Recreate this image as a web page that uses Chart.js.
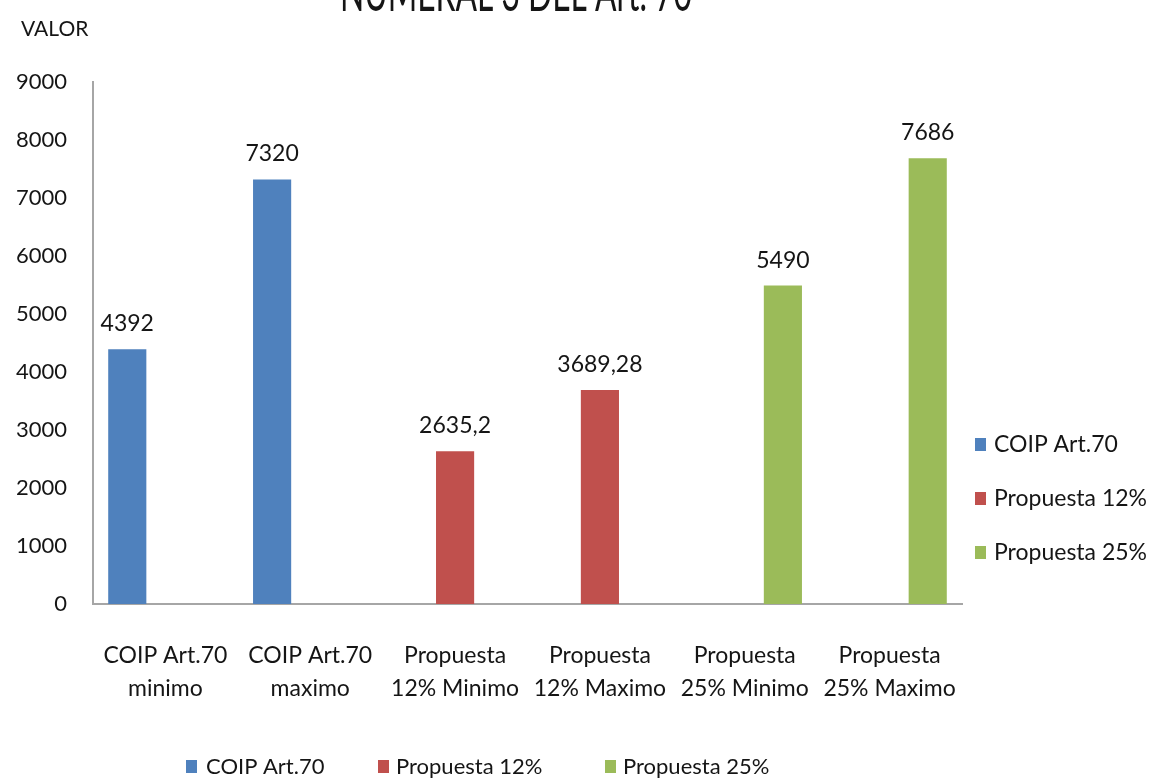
<!DOCTYPE html>
<html lang="es">
<head>
    <meta charset="UTF-8">
    <title>Numeral 3 del Art. 70</title>
    <style>
        html, body { margin: 0; padding: 0; background: #fff; }
        #wrap { width: 1159px; height: 778px; position: relative; }
    </style>
</head>
<body>
<div id="wrap">
    <canvas id="artChart" width="1159" height="778"></canvas>
</div>

<script src="https://cdn.jsdelivr.net/npm/chart.js"></script>

<script>
    // Categories (two lines each) and series values
    const categories = [
        ["COIP Art.70", "minimo"],
        ["COIP Art.70", "maximo"],
        ["Propuesta", "12% Minimo"],
        ["Propuesta", "12% Maximo"],
        ["Propuesta", "25% Minimo"],
        ["Propuesta", "25% Maximo"]
    ];
    const seriesNames = ["COIP Art.70", "Propuesta 12%", "Propuesta 25%"];
    const coipValues = [4392, 7320, null, null, null, null];
    const prop12Values = [null, null, 2635.2, 3689.28, null, null];
    const prop25Values = [null, null, null, null, 5490, 7686];
    const seriesColors = ['#4F81BD', '#C0504D', '#9BBB59'];

    const chartTitle = "NUMERAL 3 DEL Art. 70";
    const axisTitle = "VALOR";

    const FONT = "Lato, 'Open Sans', sans-serif";
    const TEXT = '#151515';

    // format numbers with a comma as decimal separator
    function fmt(v) {
        return String(v).replace('.', ',');
    }

    // draw text squeezed to a given width (the original font is narrow)
    function fitText(ctx, str, x, y, width) {
        const w = ctx.measureText(str).width;
        ctx.save();
        ctx.translate(x, y);
        ctx.scale(width / w, 1);
        ctx.fillText(str, 0, 0);
        ctx.restore();
    }

    // draws value labels, the title, axis caption and both legends
    const extras = {
        id: 'extras',
        afterDatasetsDraw(chart) {
            const ctx = chart.ctx;
            ctx.save();
            ctx.fillStyle = TEXT;
            ctx.font = "23px " + FONT;
            ctx.textAlign = 'center';
            ctx.textBaseline = 'bottom';
            chart.data.datasets.forEach((ds, i) => {
                const meta = chart.getDatasetMeta(i);
                meta.data.forEach((bar, j) => {
                    if (ds.data[j] === null) return;
                    ctx.fillText(fmt(ds.data[j]), bar.x, bar.y - 14);
                });
            });
            ctx.restore();
        },
        afterDraw(chart) {
            const ctx = chart.ctx;
            ctx.save();
            ctx.fillStyle = TEXT;

            // title, cut by the top edge like in the original
            ctx.font = "52px " + FONT;
            ctx.textAlign = 'center';
            ctx.textBaseline = 'alphabetic';
            fitText(ctx, chartTitle, 516, 11, 352);

            // axis caption
            ctx.font = "21px " + FONT;
            ctx.textAlign = 'left';
            ctx.textBaseline = 'middle';
            ctx.fillText(axisTitle, 21, 29);

            ctx.font = "23px " + FONT;
            // right legend
            const rightY = [445, 499, 553];
            seriesNames.forEach((name, i) => {
                ctx.fillStyle = seriesColors[i];
                ctx.fillRect(975, rightY[i] - 7, 11, 13);
                ctx.fillStyle = TEXT;
                ctx.fillText(name, 994, rightY[i]);
            });
            // bottom legend
            ctx.font = "22px " + FONT;
            const boxX = [186, 378, 605];
            const labelX = [206, 396, 623];
            seriesNames.forEach((name, i) => {
                ctx.fillStyle = seriesColors[i];
                ctx.fillRect(boxX[i], 760, 11, 13);
                ctx.fillStyle = TEXT;
                ctx.fillText(name, labelX[i], 767);
            });
            ctx.restore();
        }
    };

    const artChart = new Chart(document.getElementById('artChart'), {
        type: 'bar',
        data: {
            labels: categories,
            datasets: [
                { label: seriesNames[0], data: coipValues, backgroundColor: seriesColors[0] },
                { label: seriesNames[1], data: prop12Values, backgroundColor: seriesColors[1] },
                { label: seriesNames[2], data: prop25Values, backgroundColor: seriesColors[2] }
            ]
        },
        options: {
            responsive: false,
            animation: false,
            layout: { padding: { left: 0, top: 82, right: 197, bottom: 0 } },
            datasets: {
                bar: { categoryPercentage: 0.79, barPercentage: 1.0 }
            },
            plugins: {
                legend: { display: false },
                title: { display: false },
                tooltip: { enabled: false }
            },
            scales: {
                x: {
                    grid: { display: false, drawTicks: false },
                    border: { display: true, color: '#a6a6a6', width: 2 },
                    ticks: {
                        color: TEXT,
                        font: { family: FONT, size: 23, lineHeight: 1.43 },
                        padding: 35,
                        maxRotation: 0,
                        autoSkip: false
                    },
                    afterFit(scale) { scale.height = 174; }
                },
                y: {
                    min: 0,
                    max: 9000,
                    grid: { display: false, drawTicks: false },
                    border: { display: true, color: '#a6a6a6', width: 2 },
                    ticks: {
                        stepSize: 1000,
                        color: TEXT,
                        font: { family: FONT, size: 22 },
                        padding: 26,
                        callback: (value) => String(value)
                    },
                    afterFit(scale) { scale.width = 93; }
                }
            }
        },
        plugins: [extras]
    });
</script>
</body>
</html>
